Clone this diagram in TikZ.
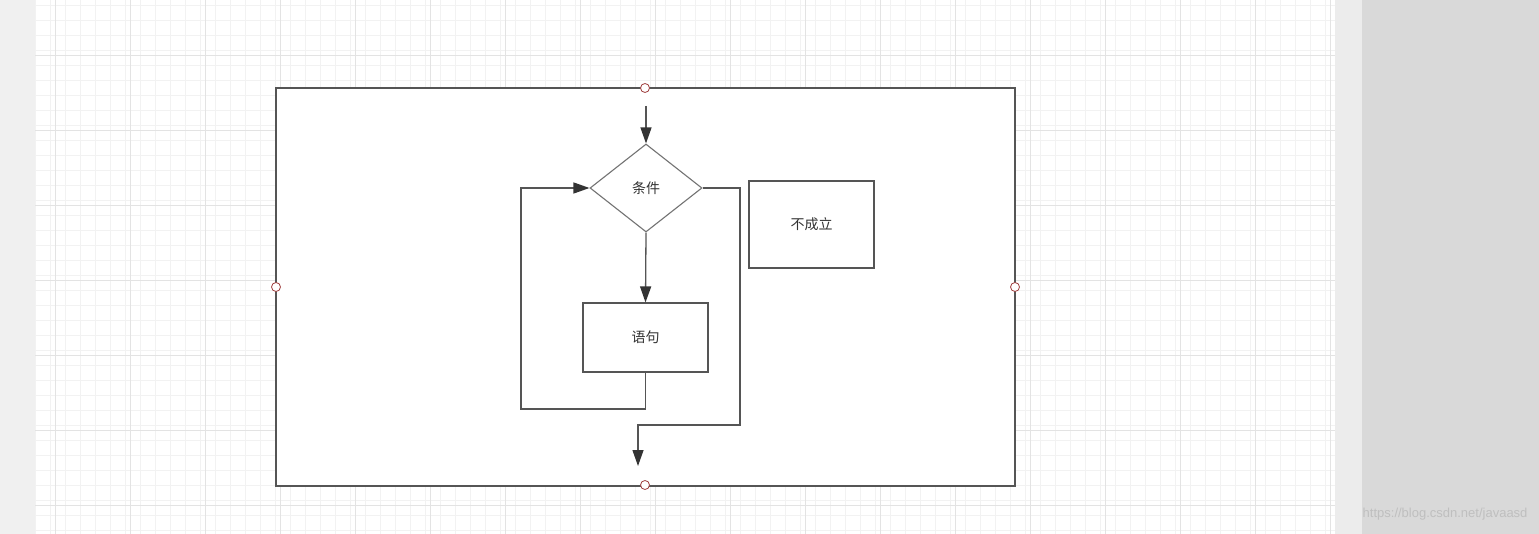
\documentclass[tikz,border=0pt]{standalone}
\usepackage{fontspec}
\setmainfont{Liberation Sans}
\newfontfamily\cjk{Noto Sans CJK SC}
\usetikzlibrary{shapes.geometric,arrows.meta}
\definecolor{ln}{HTML}{555555}
\definecolor{gmin}{HTML}{F2F2F2}
\definecolor{gmaj}{HTML}{E3E3E3}
\definecolor{hdl}{HTML}{A04040}
\begin{document}
\begin{tikzpicture}[x=1pt,y=-1pt,
  edge/.style={draw=ln,line width=1.3pt},
  arr/.style={edge,-{Triangle[length=16pt,width=11pt,fill=black!80,color=black!80]}},
  box/.style={draw=ln,line width=1.1pt,fill=white,minimum width=125pt,inner sep=0pt,font=\cjk\fontsize{14pt}{16pt}\selectfont,text=black!80},
  hd/.style={circle,draw=hdl,fill=white,minimum size=9pt,inner sep=0pt,line width=0.8pt}]
\useasboundingbox (0,0) rectangle (1539,534);
\fill[white] (0,0) rectangle (1539,534);
\fill[gray!12] (0,0) rectangle (35,534);
\foreach \x in {35,50,...,1335} \draw[gmin,line width=0.6pt] (\x,0) -- (\x,534);
\foreach \y in {5,20,...,534} \draw[gmin,line width=0.6pt] (35,\y) -- (1335,\y);
\foreach \x in {55,130,...,1335} \draw[gmaj,line width=0.8pt] (\x,0) -- (\x,534);
\foreach \y in {55,130,...,534} \draw[gmaj,line width=0.8pt] (35,\y) -- (1335,\y);
\fill[gray!15] (1335,0) rectangle (1362,534);
\fill[gray!30] (1362,0) rectangle (1539,534);
\node[draw=ln,line width=1.2pt,fill=white,minimum width=739pt,minimum height=398pt,inner sep=0pt] (frame) at (645.5,287) {};
\node[hd] (h1) at (645,88) {};
\node[hd] (h2) at (276,287) {};
\node[hd] (h3) at (1015,287) {};
\node[hd] (h4) at (645,485) {};
\node[diamond,draw=gray!90!black,line width=1.1pt,fill=white,minimum width=112pt,minimum height=88pt,aspect=1.27,inner sep=0pt,font=\cjk\fontsize{14pt}{16pt}\selectfont,text=black!80] (c) at (646,188) {条件};
\node[box,minimum height=69pt] (s) at (645.5,337.5) {语句};
\node[box,minimum height=87pt] (n) at (811.5,224.5) {不成立};
\coordinate (in) at (646,106);
\coordinate (out) at (638,466);
\draw[arr] (in) -- (c.north);
\draw[arr] (c.south) -- (s.north);
\draw[arr] (s.south) |- (521,409) |- (c.west);
\draw[arr] (c.east) -| (740,425) -| (out);
\node[anchor=east,text=gray!50,font=\fontsize{13pt}{15pt}\selectfont] (w) at (1531,514) {https://blog.csdn.net/javaasd};
\end{tikzpicture}
\end{document}
